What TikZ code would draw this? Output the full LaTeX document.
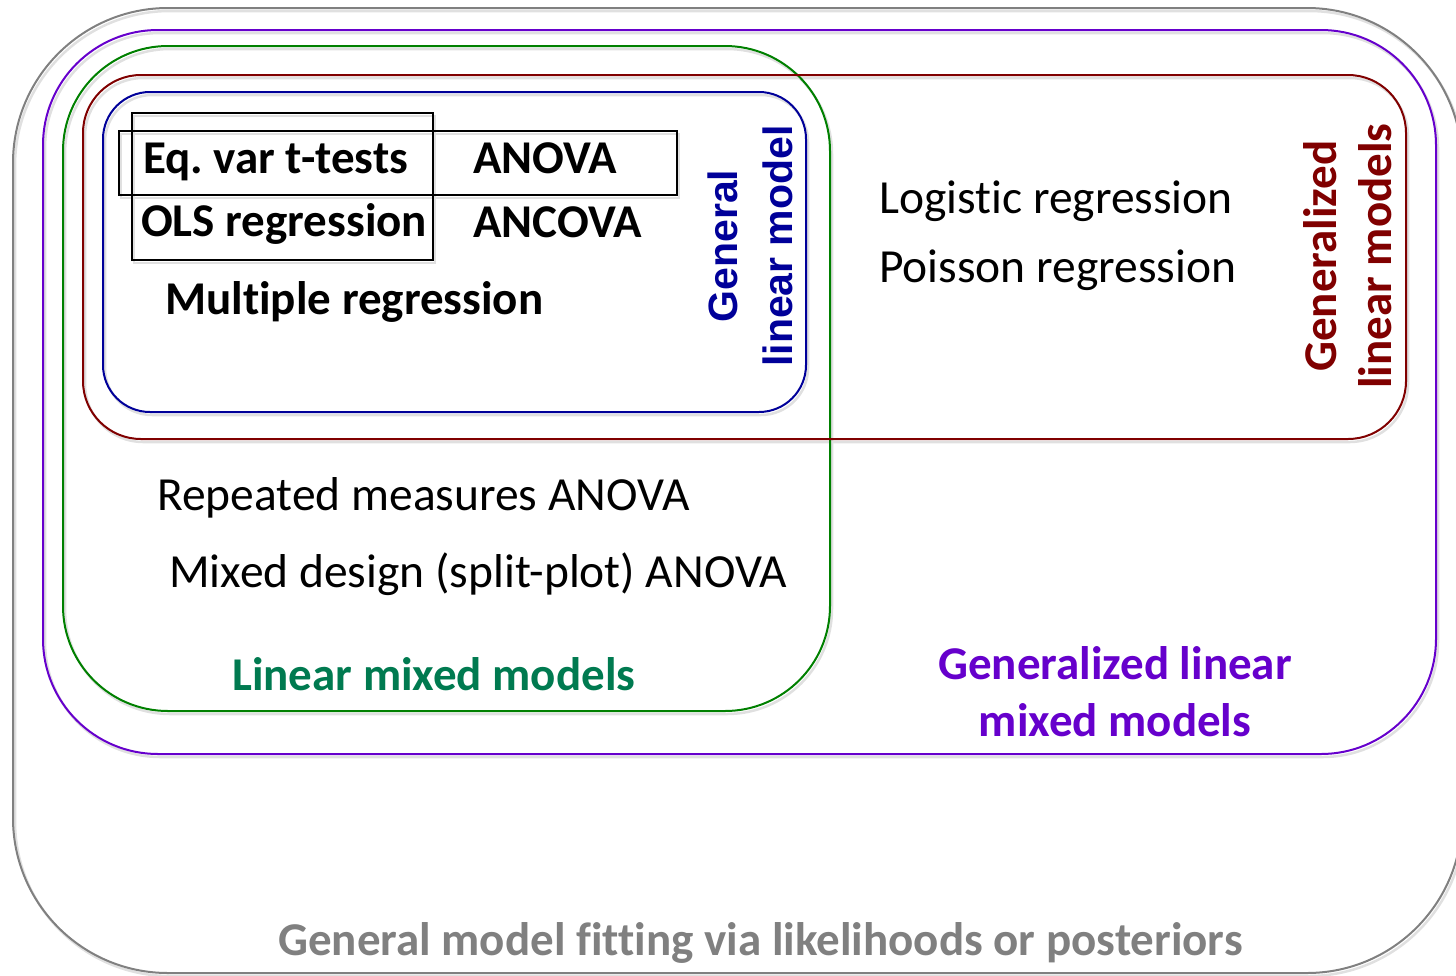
\documentclass[tikz,border=0pt]{standalone}
\usepackage{fontspec}
\setmainfont{Carlito}[Ligatures=NoCommon]
\setsansfont{Liberation Sans}
\frenchspacing
\definecolor{cgray}{RGB}{128,128,128}
\definecolor{cpurple}{RGB}{102,0,204}
\definecolor{cgreen}{RGB}{0,128,0}
\definecolor{ctgreen}{RGB}{0,122,80}
\definecolor{cred}{RGB}{128,0,0}
\definecolor{cblue}{RGB}{0,0,153}
\begin{document}
\begin{tikzpicture}[x=1pt,y=-1pt,
  shade/.style={draw=black!12, line width=2.5pt},
  boxline/.style={line width=2pt},
  txt/.style={anchor=base west, inner sep=0pt, font=\fontsize{47.5}{56}\selectfont},
  btxt/.style={txt, font=\fontsize{47}{56}\selectfont\bfseries},
]
\useasboundingbox (0,0) rectangle (1456,975);
% shadows
\draw[shade, rounded corners=155] (15,11) rectangle (1464,976);
\draw[shade, rounded corners=115] (45,33) rectangle (1438,757);
\draw[shade, rounded corners=105] (65,49) rectangle (832,714);
\draw[shade, rounded corners=58] (85,78) rectangle (1408,442);
\draw[shade, rounded corners=47] (105,95) rectangle (808,415);
\draw[draw=black!12, line width=2pt] (134,116) rectangle (435,263);
\draw[draw=black!12, line width=2pt] (121,134) rectangle (679,198);
% boxes
\draw[boxline, cgray, rounded corners=155] (13,8) rectangle (1462,973);
\draw[boxline, cpurple, rounded corners=115] (43,30) rectangle (1436,754);
\draw[boxline, cgreen, rounded corners=105] (63,46) rectangle (830,711);
\draw[boxline, cred, rounded corners=58] (83,75) rectangle (1406,439);
\draw[boxline, cblue, rounded corners=47] (103,92) rectangle (806,412);
\draw[line width=1.5pt, black] (132,113) rectangle (433,260);
\draw[line width=1.5pt, black] (119,131) rectangle (677,195);
% texts
\node[btxt] (eq) at (143,173) {Eq. var t-tests};
\node[btxt] (anova) at (473,173) {ANOVA};
\node[btxt] (ols) at (141,236) {OLS regression};
\node[btxt] (ancova) at (473,237) {ANCOVA};
\node[btxt] (mult) at (165,314) {Multiple regression};
\node[txt] (logit) at (879,213) {Logistic regression};
\node[txt] (pois) at (879,282) {Poisson regression};
\node[txt] (rm) at (157,510) {Repeated measures ANOVA};
\node[txt] (mixed) at (169,587) {Mixed design (split-plot) ANOVA};
\node[btxt, text=ctgreen] (lmm) at (232,690) {Linear mixed models};
\node[inner sep=0pt, align=center, text=cpurple, font=\fontsize{47}{57}\selectfont\bfseries] (glmm) at (1115,692) {Generalized linear\\mixed models};
\node[btxt, text=cgray] (gmf) at (278,955) {General model fitting via likelihoods or posteriors};
\node[inner sep=0pt, align=center, rotate=90, text=cblue, font=\sffamily\bfseries\fontsize{41}{55}\selectfont] (glm) at (750,246) {General\\linear model};
\node[inner sep=0pt, align=center, rotate=90, text=cred, font=\fontsize{47}{55}\selectfont\bfseries] (gzlm) at (1348,256) {Generalized\\linear models};
\end{tikzpicture}
\end{document}
